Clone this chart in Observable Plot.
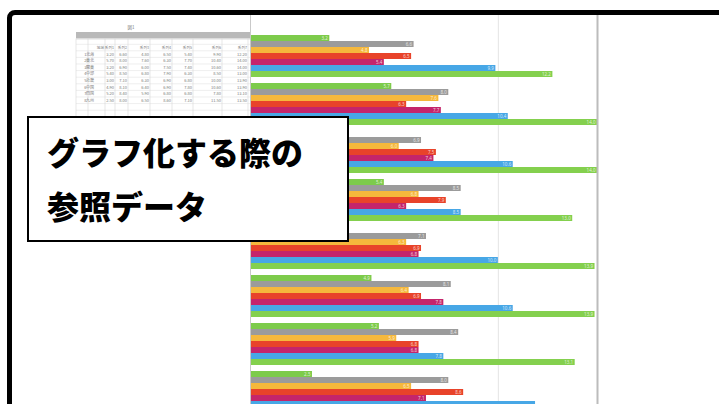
<!DOCTYPE html>
<html>
<head>
<meta charset="utf-8">
<script src="https://cdn.jsdelivr.net/npm/d3@7"></script>
<script src="https://cdn.jsdelivr.net/npm/@observablehq/plot@0.6"></script>
<style>
html, body { margin: 0; padding: 0; width: 719px; height: 404px; overflow: hidden; background: #fff; }
#wrap { position: relative; width: 719px; height: 404px; overflow: hidden; }
#chart { position: absolute; left: 0; top: 0; }
#frame { position: absolute; left: 7px; top: 10px; width: 820px; height: 520px; border: 5px solid #000; border-radius: 8px; box-sizing: border-box; pointer-events: none; }
#box { position: absolute; left: 27px; top: 116px; width: 322px; height: 126px; box-sizing: border-box; border: 2px solid #000; background: #fff;
  font-family: "Noto Sans CJK JP", sans-serif; font-weight: 900; font-size: 32px; line-height: 54px; padding: 6px 0 0 18px; color: #000; white-space: nowrap; }
</style>
</head>
<body>
<div id="wrap">
  <div id="chart"></div>
  <div id="frame"></div>
  <div id="box">グラフ化する際の<br>参照データ</div>
</div>
<script>
// ---- data ----
const groups = ["北海", "東北", "関東", "中部", "近畿", "中国", "四国", "九州"];
const seriesNames = ["系列1", "系列2", "系列3", "系列4", "系列5", "系列6", "系列7"];
const seriesColors = ["#7dcb4b", "#9b9b9b", "#f5b83c", "#e8432a", "#c4256b", "#47a7e6", "#84d04e"];
const s1 = [3.2, 5.7, 3.2, 5.4, 3.0, 4.9, 5.2, 2.5];
const s2 = [6.6, 8.0, 6.9, 8.5, 7.1, 8.1, 8.4, 8.0];
const s3 = [4.8, 7.6, 6.0, 6.8, 6.3, 6.4, 5.9, 6.5];
const s4 = [6.5, 6.3, 7.5, 7.9, 6.9, 6.9, 6.8, 8.6];
const s5 = [5.4, 7.7, 7.4, 6.3, 6.8, 7.8, 6.8, 7.1];
const s6 = [9.9, 10.4, 10.6, 8.5, 10.0, 10.6, 7.8, 11.5];
const s7 = [12.2, 14.0, 14.0, 13.0, 13.9, 13.9, 13.1, 13.5];
const tableTitle = "図1";
const headerLabels = ["", "地域", ...seriesNames];
const gridTicks = [0, 10];
const xMax = 14;

const series = [s1, s2, s3, s4, s5, s6, s7];
const rows = [];
const slots = [];
groups.forEach((g, gi) => {
  series.forEach((s, si) => {
    const key = g + "|" + si;
    rows.push({group: g, gi, si, series: seriesNames[si], key, value: s[gi]});
    slots.push(key);
  });
  slots.push(g + "|gap");
});
// the last group's two bottom bars fall at / below the picture's lower edge
const labelled = rows.filter(d => !(d.gi === groups.length - 1 && d.si >= 5));

const chart = Plot.plot({
  width: 719,
  height: 430,
  marginLeft: 250,
  marginRight: 122,
  marginTop: 15,
  marginBottom: 0,
  x: {domain: [0, xMax], axis: null},
  y: {type: "band", domain: slots, range: [32.6, 420.9], padding: 0.08, axis: null},
  color: {domain: seriesNames, range: seriesColors},
  style: {background: "transparent"},
  marks: [
    Plot.ruleX([gridTicks[1]], {stroke: "#e4e4e4", strokeWidth: 1}),
    Plot.barX(rows, {x: "value", y: "key", fill: "series"}),
    Plot.text(labelled, {x: "value", y: "key", text: d => d.value.toFixed(1), textAnchor: "end", dx: -2, fill: "#fff", fillOpacity: 0.75, fontSize: 4.5}),
    Plot.ruleX([gridTicks[0]], {stroke: "#c9c9c9", strokeWidth: 1}),
    Plot.ruleX([xMax], {stroke: "#bcbcbc", strokeWidth: 2})
  ]
});
document.getElementById("chart").appendChild(chart);

// ---- spreadsheet-style reference table (decoration drawn with d3) ----
const svg = d3.select(chart);
const t = svg.append("g").attr("font-family", "Noto Sans CJK JP, sans-serif").attr("font-size", 4).attr("fill", "#7a7a7a");
const colR = [88, 105, 115, 128, 150, 172, 193, 222, 248];
const colL = [76, ...colR.slice(0, -1)];
t.append("text").attr("x", 131).attr("y", 28.5).attr("text-anchor", "middle").attr("font-size", 4.5).text(tableTitle);
t.append("rect").attr("x", 76).attr("y", 32).attr("width", 174).attr("height", 6.5).attr("fill", "#b9b9b9");
const rowTop = 50.8, rowH = 6.6;
const lineYs = [39.5, 44.3];
for (let i = 0; i <= 11; i++) lineYs.push(rowTop + i * rowH);
lineYs.forEach(y => t.append("line").attr("x1", 76).attr("x2", 250).attr("y1", y).attr("y2", y).attr("stroke", "#e3e3e3").attr("stroke-width", 0.6));
[76, ...colR].forEach(x => t.append("line").attr("x1", x).attr("x2", x).attr("y1", 38.5).attr("y2", 125).attr("stroke", "#d6d6d6").attr("stroke-width", 0.6));
headerLabels.forEach((h, ci) => {
  t.append("text").attr("x", colR[ci] - 1).attr("y", 48.5).attr("text-anchor", "end").attr("font-size", 3.6).text(h);
});
groups.forEach((g, gi) => {
  const y = rowTop + gi * rowH + 4.7;
  t.append("text").attr("x", colR[0] - 1.5).attr("y", y).attr("text-anchor", "end").text(gi + 1);
  t.append("text").attr("x", colL[1] + 2).attr("y", y).text(g);
  series.forEach((s, si) => {
    t.append("text").attr("x", colR[si + 2] - 1).attr("y", y).attr("text-anchor", "end").text(s[gi].toFixed(2));
  });
});
</script>
</body>
</html>
